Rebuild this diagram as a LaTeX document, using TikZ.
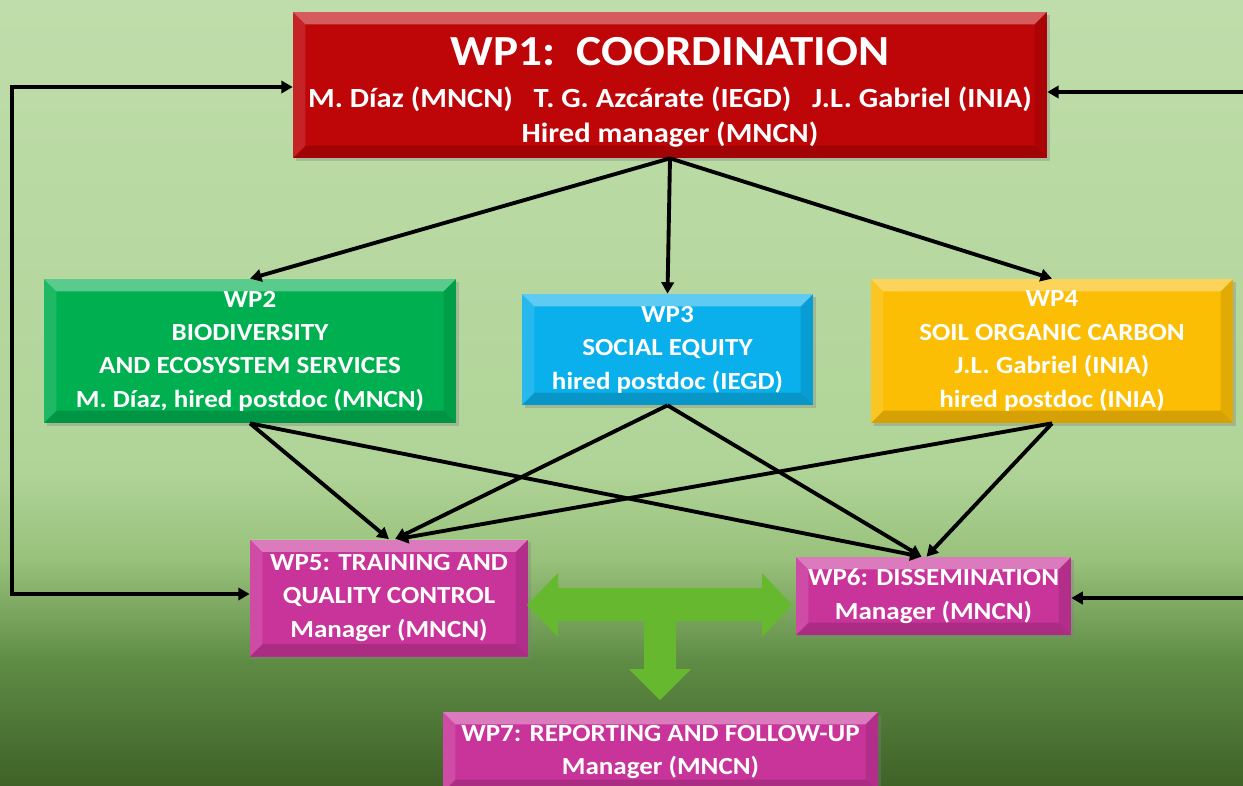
\documentclass[tikz,border=0pt]{standalone}
\usepackage{fontspec}
\setmainfont{Carlito}[FakeStretch=1.1]
\usetikzlibrary{arrows.meta,shadows}

\definecolor{bgA}{HTML}{BFDDAA}
\definecolor{bgB}{HTML}{B0D498}
\definecolor{bgC}{HTML}{98C17B}
\definecolor{bgD}{HTML}{5F8C45}
\definecolor{bgE}{HTML}{3F6228}
\definecolor{wpred}{HTML}{BE0508}
\definecolor{wpgreen}{HTML}{00B050}
\definecolor{wpcyan}{HTML}{0AB0EC}
\definecolor{wpyellow}{HTML}{FBBE05}
\definecolor{wppink}{HTML}{C8349A}
\definecolor{tgreen}{HTML}{66B82E}

\newcommand\bv{7pt}
\tikzset{
  bevel/.style={path picture={
    \fill[white,opacity=.35] (path picture bounding box.north west) -- (path picture bounding box.north east)
      -- ([shift={(-\bv,-\bv)}]path picture bounding box.north east) -- ([shift={(\bv,-\bv)}]path picture bounding box.north west) -- cycle;
    \fill[white,opacity=.12] (path picture bounding box.north west) -- (path picture bounding box.south west)
      -- ([shift={(\bv,\bv)}]path picture bounding box.south west) -- ([shift={(\bv,-\bv)}]path picture bounding box.north west) -- cycle;
    \fill[black,opacity=.10] (path picture bounding box.north east) -- (path picture bounding box.south east)
      -- ([shift={(-\bv,\bv)}]path picture bounding box.south east) -- ([shift={(-\bv,-\bv)}]path picture bounding box.north east) -- cycle;
    \fill[black,opacity=.15] (path picture bounding box.south west) -- (path picture bounding box.south east)
      -- ([shift={(-\bv,\bv)}]path picture bounding box.south east) -- ([shift={(\bv,\bv)}]path picture bounding box.south west) -- cycle;
  }}
}

\begin{document}
\begin{tikzpicture}[x=0.02cm, y=-0.02cm,
    wp/.style = {rectangle, inner sep=0pt, align=center, text=white, bevel,
      font=\bfseries\fontsize{14}{19}\selectfont,
      drop shadow={shadow xshift=1.5pt, shadow yshift=-1.5pt, opacity=0.35}},
    link/.style = {-{Triangle[length=6.5pt,width=7pt]}, line width=2.2pt, black}]
  \useasboundingbox (0,0) rectangle (1243,785);
  \clip (0,0) rectangle (1243,785);
  % background
  \fill[top color=bgA, bottom color=bgB] (0,0) rectangle (1243,471);
  \fill[top color=bgB, bottom color=bgC] (0,470) rectangle (1243,561);
  \fill[top color=bgC, bottom color=bgD] (0,560) rectangle (1243,661);
  \fill[top color=bgD, bottom color=bgE] (0,660) rectangle (1243,785);

  \node[wp, fill=wpred, minimum width=15.08cm, minimum height=2.92cm,
        font=\bfseries\fontsize{15.8}{20}\selectfont] (1) at (670,85)
    {\rule{0pt}{24pt}{\fontsize{24.4}{30}\selectfont WP1:\ \ COORDINATION}\\[4pt]
     M. Díaz (MNCN)\ \ \ T. G. Azcárate (IEGD)\ \ \ J.L. Gabriel (INIA)\\
     Hired manager (MNCN)};
  \node[wp, fill=wpgreen, minimum width=8.24cm, minimum height=2.88cm] (2) at (250,351)
    {WP2\\BIODIVERSITY\\AND ECOSYSTEM SERVICES\\M. Díaz, hired postdoc (MNCN)};
  \node[wp, fill=wpcyan, minimum width=5.82cm, minimum height=2.22cm] (3) at (667.5,349.5)
    {WP3\\SOCIAL EQUITY\\hired postdoc (IEGD)};
  \node[wp, fill=wpyellow, minimum width=7.24cm, minimum height=2.88cm] (4) at (1052,351)
    {WP4\\SOIL ORGANIC CARBON\\J.L. Gabriel (INIA)\\hired postdoc (INIA)};
  \node[wp, fill=wppink, minimum width=5.56cm, minimum height=2.34cm] (5) at (389,598)
    {WP5: TRAINING AND\\QUALITY CONTROL\\Manager (MNCN)};
  \node[wp, fill=wppink, minimum width=5.5cm, minimum height=1.56cm] (6) at (933.5,596)
    {WP6: DISSEMINATION\\Manager (MNCN)};
  \node[wp, fill=wppink, minimum width=8.7cm, minimum height=1.6cm] (7) at (660.5,752)
    {WP7: REPORTING AND FOLLOW-UP\\Manager (MNCN)};

  % T arrow between WP5, WP6 and WP7
  \fill[tgreen] (527,605) -- (558,573) -- (558,588) -- (762,588) -- (762,573) -- (792,605)
    -- (762,637) -- (762,621) -- (676,621) -- (676,669) -- (691,669) -- (660,700)
    -- (629,669) -- (644,669) -- (644,621) -- (558,621) -- (558,637) -- cycle;

  \draw[link] (1.south) to (2.north);
  \draw[link] (1.south) to (3.north);
  \draw[link] (1.south) to (4.north);
  \draw[link] (2.south) to (5.north);
  \draw[link] (2.south) to ([xshift=-0.24cm]6.north);
  \draw[link] (3.south) to ([xshift=0.12cm]5.north);
  \draw[link] (3.south) to ([xshift=-0.24cm]6.north);
  \draw[link] (4.south) to ([xshift=0.16cm]5.north);
  \draw[link] (4.south) to ([xshift=-0.14cm]6.north);

  % feedback lines
  \coordinate (l1) at (12,87);
  \coordinate (l2) at (12,594);
  \coordinate (r1) at (1243,92);
  \coordinate (r2) at (1243,598);
  \draw[link, {Triangle[length=6.5pt,width=7pt]}-{Triangle[length=6.5pt,width=7pt]}]
    (l1 -| 1.west) -- (l1) -- (l2) -- (l2 -| 5.west);
  \draw[link] (r1) -- (r1 -| 1.east);
  \draw[link] (r2) -- (r2 -| 6.east);
\end{tikzpicture}
\end{document}
